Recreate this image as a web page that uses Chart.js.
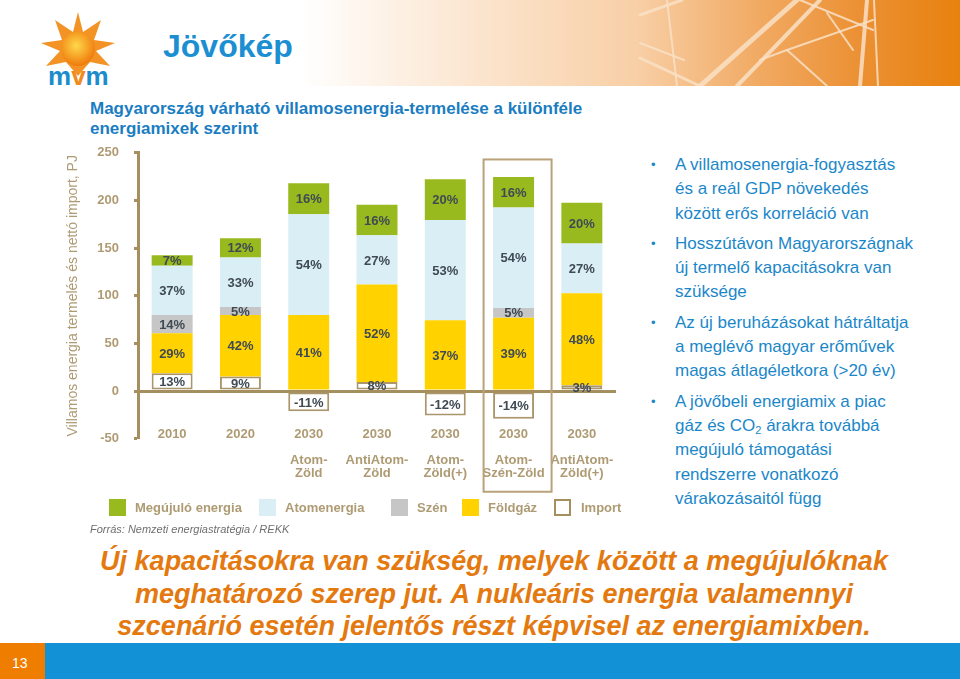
<!DOCTYPE html>
<html lang="hu">
<head>
<meta charset="utf-8">
<title>Jövőkép</title>
<script src="https://cdn.jsdelivr.net/npm/chart.js@4.4.1/dist/chart.umd.min.js"></script>
<style>
  html, body { margin: 0; padding: 0; }
  body {
    width: 960px; height: 679px; position: relative; overflow: hidden;
    background: #fff; font-family: "Liberation Sans", Arial, sans-serif;
  }
  .header-bg {
    position: absolute; left: 300px; top: 0; width: 660px; height: 86px;
    background: linear-gradient(to right, rgba(255,255,255,0) 0%, #fdf0e3 15%, #f8cfa6 51%, #f1a961 70%, #eb9033 85%, #e8820f 100%);
  }
  .wires { position: absolute; left: 0; top: 0; }
  .logo { position: absolute; left: 0; top: 0; }
  .title {
    position: absolute; left: 163px; top: 27px; font-size: 32px; line-height: 38px;
    font-weight: bold; color: #1b8fd2;
  }
  .subtitle {
    position: absolute; left: 90px; top: 99px; font-size: 17px; line-height: 20px;
    font-weight: bold; color: #1a7dc2;
  }
  #mixChart { position: absolute; left: 60px; top: 130px; }
  .legend-item {
    position: absolute; top: 499px; height: 17px; font-size: 13px; line-height: 17px;
    font-weight: bold; color: #ae9b73; white-space: nowrap;
  }
  .legend-item .box {
    position: absolute; left: 0; top: 0; width: 17px; height: 17px; box-sizing: border-box;
  }
  .legend-item .txt { position: absolute; top: 0; }
  .bullets {
    position: absolute; left: 651px; top: 153px; width: 300px; margin: 0; padding: 0;
    list-style: none; font-size: 17px; line-height: 24.3px; color: #1b87c9;
  }
  .bullets li { position: relative; padding-left: 24px; margin-bottom: 6px; }
  .bullets li::before {
    content: "\2022"; position: absolute; left: 0; top: 0; font-size: 13px;
  }
  .bullets sub { font-size: 11px; line-height: 0; vertical-align: -3px; }
  .source {
    position: absolute; left: 90px; top: 523px; font-size: 11px; font-style: italic;
    color: #6f6f6f;
  }
  .conclusion {
    position: absolute; left: 0; top: 545px; width: 988px; text-align: center;
    font-size: 27px; line-height: 32.5px; font-weight: bold; font-style: italic; color: #e3790f;
  }
  .footer {
    position: absolute; left: 0; top: 643px; width: 960px; height: 36px; background: #1391d6;
  }
  .pagenum {
    position: absolute; left: 0; top: 0; width: 45px; height: 36px; background: #ef7d00;
    color: #fff; font-size: 14px; line-height: 40px; text-indent: 12px;
  }
</style>
</head>
<body>
<div class="header-bg"></div>
<svg class="wires" width="960" height="86">
  <g stroke="#f9e0c6" stroke-opacity="0.85" fill="none" stroke-linecap="round">
    <line x1="640" y1="15" x2="682" y2="0" stroke-width="3"/>
    <line x1="640" y1="43" x2="684" y2="60" stroke-width="2"/>
    <line x1="640" y1="58" x2="700" y2="86" stroke-width="3"/>
    <line x1="667" y1="0" x2="677" y2="86" stroke-width="2"/>
    <line x1="700" y1="86" x2="797" y2="0" stroke-width="5"/>
    <line x1="737" y1="86" x2="820" y2="0" stroke-width="4"/>
    <line x1="787" y1="50" x2="873" y2="20" stroke-width="2"/>
    <line x1="787" y1="50" x2="827" y2="86" stroke-width="2"/>
    <line x1="827" y1="13" x2="853" y2="50" stroke-width="2"/>
    <line x1="867" y1="0" x2="860" y2="86" stroke-width="4"/>
    <line x1="874" y1="0" x2="878" y2="86" stroke-width="2"/>
    <line x1="760" y1="60" x2="787" y2="50" stroke-width="2"/>
    <line x1="800" y1="0" x2="873" y2="30" stroke-width="2"/>
  </g>
</svg>
<svg class="logo" width="140" height="100">
  <defs>
    <radialGradient id="sun" cx="45%" cy="40%" r="60%">
      <stop offset="0%" stop-color="#ffd84a"/>
      <stop offset="100%" stop-color="#ef7a0c"/>
    </radialGradient>
  </defs>
  <polygon fill="#f39325" points="78,12 83,32 101,20 94,40 115,43 96,51 110,66 90,62 78,76 66,62 46,66 60,51 41,43 62,40 55,20 73,32"/>
  <circle cx="78" cy="49" r="17" fill="url(#sun)"/>
  <text x="48" y="85" font-family="Liberation Sans, Arial, sans-serif" font-weight="bold" font-size="26" fill="#1b8ccc">m<tspan fill="#f08a1c">v</tspan>m</text>
</svg>
<div class="title">Jövőkép</div>
<div class="subtitle">Magyarország várható villamosenergia-termelése a különféle<br>energiamixek szerint</div>

<canvas id="mixChart" width="570" height="400" style="width:570px;height:400px"></canvas>
<div id="legend"></div>

<ul class="bullets">
  <li>A villamosenergia-fogyasztás<br>és a reál GDP növekedés<br>között erős korreláció van</li>
  <li>Hosszútávon Magyarországnak<br>új termelő kapacitásokra van<br>szüksége</li>
  <li>Az új beruházásokat hátráltatja<br>a meglévő magyar erőművek<br>magas átlagéletkora (&gt;20 év)</li>
  <li>A jövőbeli energiamix a piac<br>gáz és CO<sub>2</sub> árakra továbbá<br>megújuló támogatási<br>rendszerre vonatkozó<br>várakozásaitól függ</li>
</ul>

<div class="source">Forrás: Nemzeti energiastratégia / REKK</div>
<div class="conclusion">Új kapacitásokra van szükség, melyek között a megújulóknak<br>meghatározó szerep jut. A nukleáris energia valamennyi<br>szcenárió esetén jelentős részt képvisel az energiamixben.</div>
<div class="footer"><div class="pagenum">13</div></div>

<script>
// categories
const years = ["2010", "2020", "2030", "2030", "2030", "2030", "2030"];
const scenarios = [
  [],
  [],
  ["Atom-", "Zöld"],
  ["AntiAtom-", "Zöld"],
  ["Atom-", "Zöld(+)"],
  ["Atom-", "Szén-Zöld"],
  ["AntiAtom-", "Zöld(+)"],
];

// values in PJ
const importValues = [18.8, 15.4, -21.2, 9.6, -25.6, -29, 6.2];
const gasValues = [42, 64.3, 79.7, 102.2, 74.2, 76.9, 96.4];
const coalValues = [18.9, 8.5, null, null, null, 10.3, null];
const nuclearValues = [51.9, 52, 105.9, 51.6, 105.3, 105.3, 52.3];
const renewableValues = [11, 20.1, 32.4, 32.2, 42.7, 32.1, 42.7];

// percentage labels printed on the segments
const importPct = ["13%", "9%", "-11%", "8%", "-12%", "-14%", "3%"];
const gasPct = ["29%", "42%", "41%", "52%", "37%", "39%", "48%"];
const coalPct = ["14%", "5%", "", "", "", "5%", ""];
const nuclearPct = ["37%", "33%", "54%", "27%", "53%", "54%", "27%"];
const renewablePct = ["7%", "12%", "16%", "16%", "20%", "16%", "20%"];

const seriesNames = ["Megújuló energia", "Atomenergia", "Szén", "Földgáz", "Import"];

// y axis ticks
const yMin = -50;
const yMax = 250;
const yStep = 50;

const highlightIndex = 5;
const highlightTop = 243;

const axisColor = "#a68f5e";
const tanText = "#ae9b73";
const labelColor = "#3f4a54";
const green = "#98ba1e";
const lightBlue = "#daeef6";
const grey = "#c6c6c6";
const yellow = "#ffd200";
const fontFamily = "'Liberation Sans', Arial, sans-serif";

const categoryLabels = years.map((y, i) =>
  scenarios[i].length ? [y, ""].concat(scenarios[i]) : y
);

// legend (HTML, drawn left to right)
const legendColors = [green, lightBlue, grey, yellow, "#fff"];
const legendLeft = [109, 259, 391, 462, 554];
const legendEl = document.getElementById("legend");
seriesNames.forEach((name, i) => {
  const item = document.createElement("div");
  item.className = "legend-item";
  item.style.left = legendLeft[i] + "px";
  const border = i === 4 ? "border:2px solid " + axisColor + ";" : "";
  item.innerHTML =
    '<span class="box" style="background:' + legendColors[i] + ";" + border + '"></span>' +
    '<span class="txt" style="left:' + (i === 4 ? 27 : 26) + 'px">' + name + "</span>";
  legendEl.appendChild(item);
});

const barLabelPlugin = {
  id: "barLabels",
  afterDatasetsDraw(chart) {
    const ctx = chart.ctx;
    ctx.save();
    ctx.font = "bold 13px " + fontFamily;
    ctx.fillStyle = labelColor;
    ctx.textAlign = "center";
    ctx.textBaseline = "middle";
    chart.data.datasets.forEach((ds, i) => {
      chart.getDatasetMeta(i).data.forEach((bar, j) => {
        const text = ds.pctLabels[j];
        if (!text || ds.data[j] === null) return;
        const p = bar.getProps(["x", "y", "base"], true);
        ctx.fillText(text, p.x, (p.y + p.base) / 2 + 1);
      });
    });
    ctx.restore();
  },
};

const highlightPlugin = {
  id: "highlight",
  afterDraw(chart) {
    const ctx = chart.ctx;
    const x = chart.scales.x.getPixelForValue(highlightIndex);
    const top = chart.scales.y.getPixelForValue(highlightTop);
    const bottom = chart.chartArea.bottom + 53;
    ctx.save();
    ctx.strokeStyle = "#b9a27a";
    ctx.lineWidth = 2;
    ctx.strokeRect(x - 30, top, 68, bottom - top);
    ctx.restore();
  },
};

const mixChart = new Chart(document.getElementById("mixChart"), {
  type: "bar",
  data: {
    labels: categoryLabels,
    datasets: [
      {
        label: seriesNames[4],
        data: importValues,
        pctLabels: importPct,
        backgroundColor: "#fff",
        borderColor: "#ab966b",
        borderWidth: 2,
        borderSkipped: false,
      },
      { label: seriesNames[3], data: gasValues, pctLabels: gasPct, backgroundColor: yellow },
      { label: seriesNames[2], data: coalValues, pctLabels: coalPct, backgroundColor: grey },
      { label: seriesNames[1], data: nuclearValues, pctLabels: nuclearPct, backgroundColor: lightBlue },
      { label: seriesNames[0], data: renewableValues, pctLabels: renewablePct, backgroundColor: green },
    ],
  },
  options: {
    responsive: false,
    devicePixelRatio: 1,
    animation: false,
    layout: { padding: { top: 16.25, right: 14, bottom: 0, left: 0 } },
    datasets: { bar: { barPercentage: 0.6, categoryPercentage: 1 } },
    plugins: {
      legend: { display: false },
      tooltip: { enabled: false },
    },
    scales: {
      x: {
        stacked: true,
        grid: { display: false, drawTicks: false },
        border: { display: false },
        ticks: {
          color: tanText,
          font: { family: fontFamily, size: 13, weight: "bold", lineHeight: 1.0 },
          padding: -11,
          maxRotation: 0,
          autoSkip: false,
        },
        afterFit(scale) {
          scale.height = 91.25;
          // year labels sit just above the bottom of the plot, so don't clip them to the axis box
          scale._computeLabelArea = () => undefined;
        },
      },
      y: {
        stacked: true,
        min: yMin,
        max: yMax,
        z: 1,
        ticks: {
          stepSize: yStep,
          color: tanText,
          font: { family: fontFamily, size: 13, weight: "bold" },
          padding: 15,
        },
        grid: {
          color: (c) => (c.tick && c.tick.value === 0 ? axisColor : "rgba(0,0,0,0)"),
          lineWidth: (c) => (c.tick && c.tick.value === 0 ? 3 : 1),
          tickColor: axisColor,
          tickWidth: 3,
          tickLength: 4,
        },
        border: { display: true, color: axisColor, width: 3 },
        title: {
          display: true,
          text: "Villamos energia termelés és nettó import, PJ",
          color: tanText,
          font: { family: fontFamily, size: 14 },
          padding: { top: 5, bottom: 0 },
        },
        afterFit(scale) {
          scale.width = 78;
        },
      },
    },
  },
  plugins: [barLabelPlugin, highlightPlugin],
});
</script>
</body>
</html>
